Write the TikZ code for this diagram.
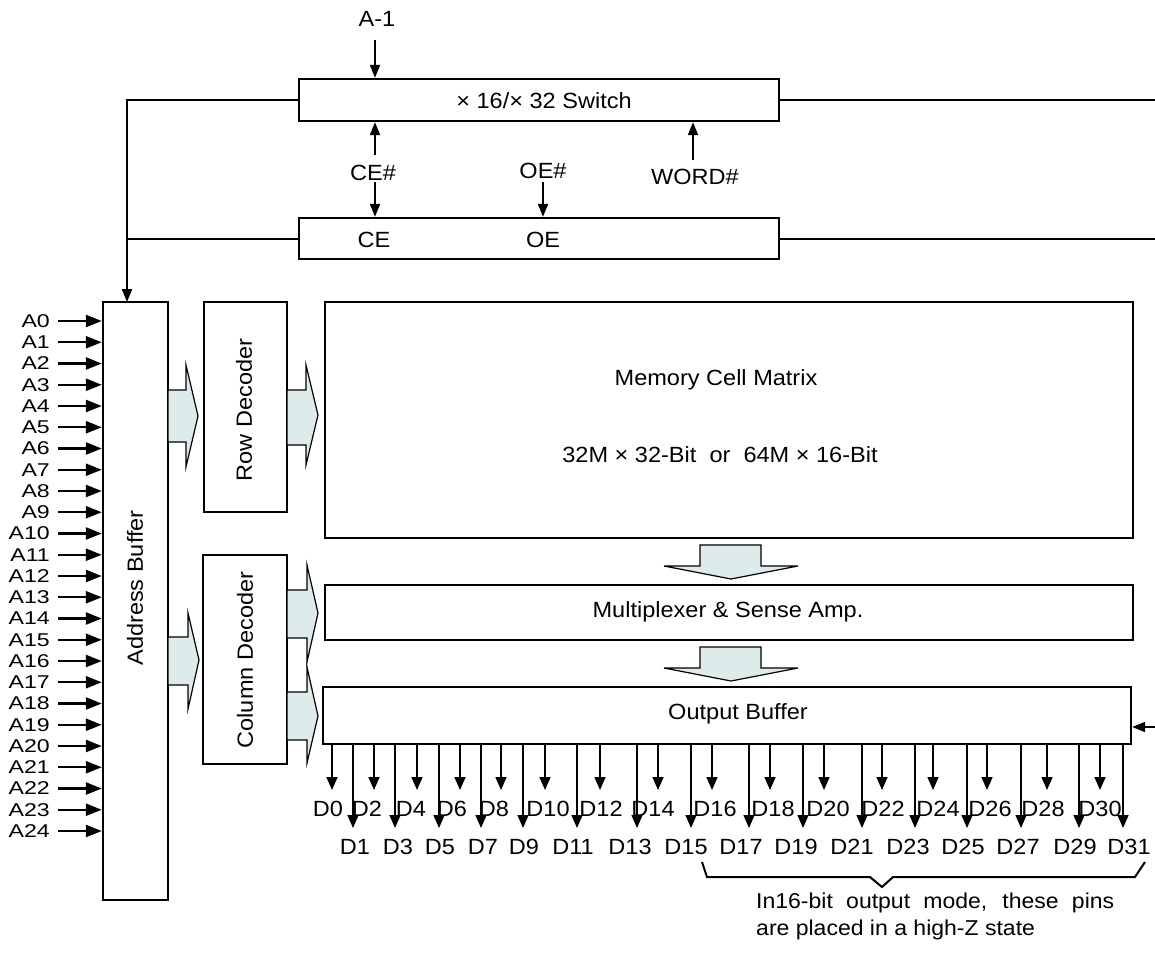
\documentclass[tikz,border=0pt]{standalone}
\usepackage{fontspec}
\setmainfont{Liberation Sans}[FakeStretch=1.07]
\newfontfamily\pinfont{Liberation Sans}[FakeStretch=1.25]
\usetikzlibrary{arrows.meta,calc}
\definecolor{arrowfill}{HTML}{DDEBEA}
\tikzset{
  box/.style={draw, line width=2.4pt, rectangle, inner sep=0pt},
  lbl/.style={font=\fontsize{22}{26}\selectfont, inner sep=0pt},
  pinlbl/.style={font=\pinfont\fontsize{18.5}{21}\selectfont, inner sep=0pt, anchor=east},
  wire/.style={line width=2pt},
  arr/.style={line width=2pt, -{Triangle[length=13pt,width=10pt]}},
  parr/.style={line width=2.4pt, -{Triangle[length=16pt,width=12pt]}},
  darr/.style={line width=1.6pt, -{Triangle[length=13pt,width=11pt]}},
  barrow/.style={draw, fill=arrowfill, line width=1.2pt, line join=miter},
}
\begin{document}
\begin{tikzpicture}[x=1pt,y=-1pt]
\useasboundingbox (0,0) rectangle (1155,958);

% ---- boxes ----
\node[box, minimum width=480pt, minimum height=42pt] (sw) at (539,100) {};
\node[box, minimum width=480pt, minimum height=41pt] (ce) at (539,238.5) {};
\node[box, minimum width=65pt, minimum height=598pt] (ab) at (135.5,601) {};
\node[box, minimum width=83pt, minimum height=210pt] (rd) at (245.5,407) {};
\node[box, minimum width=84pt, minimum height=209pt] (cd) at (245,659.5) {};
\node[box, minimum width=808pt, minimum height=236pt] (mm) at (729,420) {};
\node[box, minimum width=808pt, minimum height=55pt] (mx) at (729,612.5) {};
\node[box, minimum width=808pt, minimum height=57pt] (ob) at (727,715.5) {};

% ---- texts in boxes ----
\node[lbl] (swt) at (544,101) {× 16/× 32 Switch};
\node[lbl] (cet) at (374,240) {CE};
\node[lbl] (oet) at (543,240) {OE};
\node[lbl, rotate=90] (abt) at (135,588) {Address Buffer};
\node[lbl, rotate=90] (rdt) at (244,410) {Row Decoder};
\node[lbl, rotate=90] (cdt) at (245,660) {Column Decoder};
\node[lbl] (mmt1) at (716,380) {Memory Cell Matrix};
\node[lbl] (mmt2) at (720,455) {32M × 32-Bit\ \ or\ \ 64M × 16-Bit};
\node[lbl] (mxt) at (728,612) {Multiplexer \& Sense Amp.};
\node[lbl] (obt) at (738,714) {Output Buffer};

% ---- control signals ----
\node[lbl] (a1) at (377,19) {A-1};
\coordinate (a1s) at (375,40);
\draw[arr] (a1s) -- (a1s |- sw.north);

\node[lbl] (ceh) at (373,173) {CE\#};
\coordinate (ceu) at (375,155);
\coordinate (ced) at (375,182);
\draw[arr] (ceu) -- (ceu |- sw.south);
\draw[arr] (ced) -- (ced |- ce.north);

\node[lbl] (oeh) at (543,171) {OE\#};
\coordinate (oed) at (543,182);
\draw[arr] (oed) -- (oed |- ce.north);

\node[lbl] (wdh) at (695,177) {WORD\#};
\coordinate (wdu) at (693,160);
\draw[arr] (wdu) -- (wdu |- sw.south);

% ---- left/right wiring ----
\coordinate (abin) at (127,302);
\draw[arr] (sw.west) -| (abin);
\draw[wire] (ce.west) -- (abin |- ce.west);
\coordinate (rt1) at (1155,100);
\coordinate (rt2) at (1155,238.5);
\draw[wire] (sw.east) -- (rt1);
\draw[wire] (ce.east) -- (rt2);
\coordinate (rt3) at (1155,727);
\draw[arr] (rt3) -- (ob.east |- rt3);

% ---- address pins ----
\foreach \i in {0,...,24}{
  \pgfmathsetmacro{\yy}{321+21.25*\i}
  \node[pinlbl] (A\i) at (50,\yy) {A\i};
  \coordinate (As\i) at (58,\yy);
  \draw[parr] (As\i) -- (As\i -| ab.west);
}

% ---- block arrows ----
\draw[barrow] (168,390) -- (186,390) -- (186,365) -- (198,416) -- (186,467) -- (186,442) -- (168,442) -- cycle;
\draw[barrow] (287,390) -- (306,390) -- (306,365) -- (318,415) -- (306,465) -- (306,445) -- (287,445) -- cycle;
\draw[barrow] (168,637) -- (188,637) -- (188,613) -- (199,660) -- (188,709) -- (188,685) -- (168,685) -- cycle;
\draw[barrow] (287,590) -- (307,590) -- (307,565) -- (318,613) -- (307,662) -- (307,638) -- (287,638) -- cycle;
\draw[barrow] (287,692) -- (307,692) -- (307,667) -- (318,716) -- (307,763) -- (307,740) -- (287,740) -- cycle;
\draw[barrow] (700,545) -- (761,545) -- (761,566) -- (798,566) -- (731,579) -- (664,566) -- (700,566) -- cycle;
\draw[barrow] (700,647) -- (761,647) -- (761,668) -- (798,668) -- (731,681) -- (664,668) -- (700,668) -- cycle;

% ---- data pins ----
\foreach \n/\x/\lx in {0/332/328, 2/374/367, 4/417/411, 6/460/452, 8/501/494, 10/545/548, 12/600/601, 14/658/653, 16/712/715, 18/770/773, 20/824/828, 22/882/883, 24/933/938, 26/987/990, 28/1047/1043, 30/1100/1100}{
  \coordinate (de\n) at (\x,790);
  \draw[darr] (\x,744) -- (de\n);
  \node[lbl] (D\n) at (\lx,809) {D\n};
}
\foreach \n/\x/\lx in {1/353/355, 3/395/398, 5/439/440, 7/481/483, 9/523/524, 11/577/573, 13/637/630, 15/691/686, 17/749/741, 19/803/796, 21/862/852, 23/915/908, 25/967/963, 27/1021/1018, 29/1079/1075, 31/1123/1129}{
  \coordinate (do\n) at (\x,828);
  \draw[darr] (\x,744) -- (do\n);
  \node[lbl] (D\n) at (\lx,847) {D\n};
}

% ---- brace and note ----
\draw[wire, line join=miter] (702,862) -- (707,877) -- (870,877) -- (882,887) -- (893,877) -- (1135,877) -- (1145,862);
\node[lbl, anchor=north west, align=left, font=\fontsize{21.5}{27}\selectfont] (note) at (756,893)
  {\makebox[358pt][s]{In16-bit output mode, these pins}\\are placed in a high-Z state};
\end{tikzpicture}
\end{document}
